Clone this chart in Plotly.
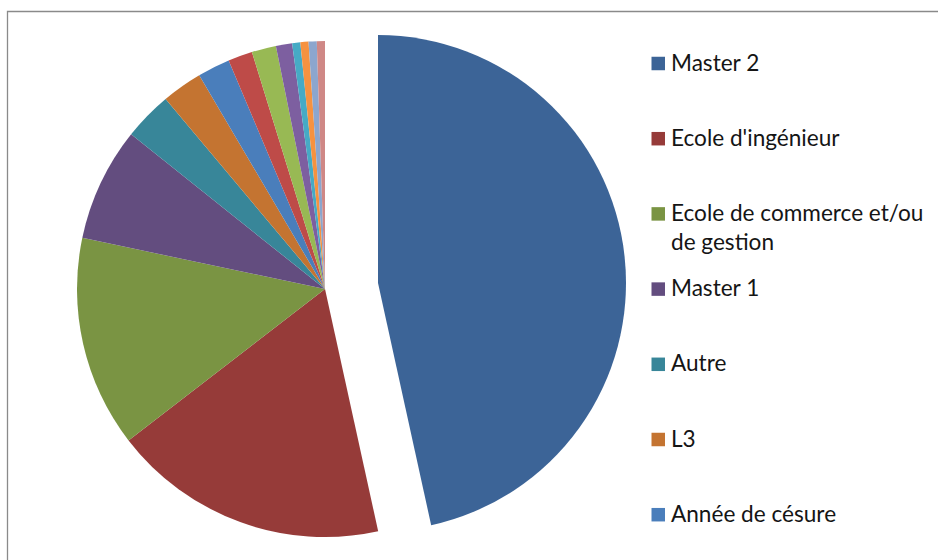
import textwrap
import plotly.graph_objects as go

# ---- data (counts of respondents) ----
labels = [
    "Master 2",
    "Ecole d'ingénieur",
    "Ecole de commerce et/ou de gestion",
    "Master 1",
    "Autre",
    "L3",
    "Année de césure",
    "Catégorie 8",
    "Catégorie 9",
    "Catégorie 10",
    "Catégorie 11",
    "Catégorie 12",
    "Catégorie 13",
    "Catégorie 14",
]
values = [88, 34, 26, 14, 6, 5, 4, 3, 3, 2, 1, 1, 1, 1]
colors = [
    "#3C6497", "#963B39", "#7A9443", "#634D7F", "#388699", "#C47431",
    "#4A7EBB", "#BE4B48", "#98B954", "#7D5FA0", "#46AAC5", "#F69240",
    "#8CA6CE", "#CF8886",
]
legend_count = 7  # entries visible in the (clipped) legend

# ---- layout constants ----
W, H = 938, 560
R = 248                      # pie radius (px)
CX, CY = 325, 289            # pie centre (px from top-left)
PULL_DX, PULL_DY = 53, -6    # offset of the exploded first slice (px)
FONT = "Lato"
FS = 22.6

def domain(cx, cy, r):
    return dict(
        x=[(cx - r) / W, (cx + r) / W],
        y=[(H - cy - r) / H, (H - cy + r) / H],
    )

transparent = "rgba(0,0,0,0)"
base_colors = [transparent] + colors[1:]
pulled_colors = [colors[0]] + [transparent] * (len(colors) - 1)

fig = go.Figure()
fig.add_trace(go.Pie(
    labels=labels, values=values, sort=False, direction="clockwise",
    rotation=0, textinfo="none", showlegend=False,
    marker=dict(colors=base_colors, line=dict(width=0)),
    domain=domain(CX, CY, R),
))
fig.add_trace(go.Pie(
    labels=labels, values=values, sort=False, direction="clockwise",
    rotation=0, textinfo="none", showlegend=False, hoverinfo="skip",
    marker=dict(colors=pulled_colors, line=dict(width=0)),
    domain=domain(CX + PULL_DX, CY + PULL_DY, R),
))

# ---- chart-area frame (extends beyond right/bottom of the picture) ----
fig.add_shape(type="rect", xref="paper", yref="paper",
              x0=7.5 / W, x1=1.2, y0=-0.2, y1=1 - 11.5 / H,
              line=dict(color="#8A8A8A", width=1.3), fillcolor=transparent,
              layer="below")

# ---- legend (Excel style, evenly spaced, clipped at bottom) ----
LEG_X0 = 651.5
SQ = 13.5
LEG_Y0 = 63.5
LEG_STEP = 75.2
annotations = []
for i, (lab, col) in enumerate(zip(labels[:legend_count], colors[:legend_count])):
    yc = LEG_Y0 + i * LEG_STEP
    fig.add_shape(type="rect", xref="paper", yref="paper",
                  x0=LEG_X0 / W, x1=(LEG_X0 + SQ) / W,
                  y0=(H - yc - SQ / 2) / H, y1=(H - yc + SQ / 2) / H,
                  line=dict(width=0), fillcolor=col)
    text = "<br>".join(textwrap.wrap(lab, 23))
    annotations.append(dict(
        x=669 / W, y=(H - yc + 17) / H, xref="paper", yref="paper",
        xanchor="left", yanchor="top", align="left", showarrow=False,
        text=text, font=dict(family=FONT, size=FS, color="#151515"),
    ))

fig.update_layout(
    width=W, height=H,
    margin=dict(l=0, r=0, t=0, b=0),
    paper_bgcolor="white", plot_bgcolor="white",
    annotations=annotations,
    font=dict(family=FONT),
)

fig.write_html("out.html", config={"displayModeBar": False},
               post_script="document.body.style.margin='0';")
